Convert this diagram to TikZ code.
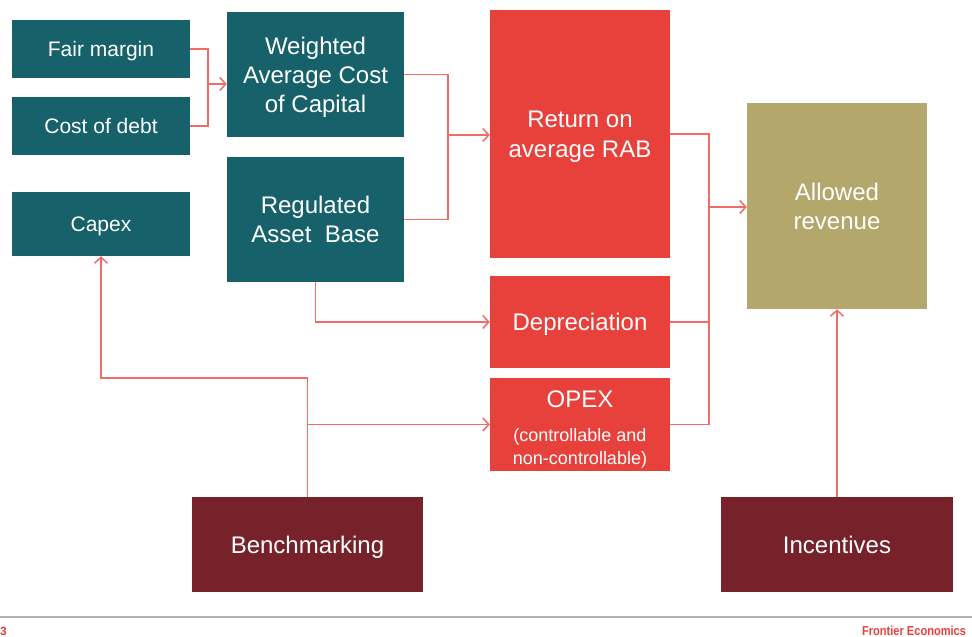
\documentclass[tikz,border=0pt]{standalone}
\usepackage{fontspec}
\setmainfont{Liberation Sans}
\usetikzlibrary{calc}
\usetikzlibrary{positioning}
\usetikzlibrary{arrows.meta}

\definecolor{tealbox}{HTML}{17616B}
\definecolor{redbox}{HTML}{E8403A}
\definecolor{olivebox}{HTML}{B3A76C}
\definecolor{maroonbox}{HTML}{77222A}
\definecolor{linkred}{HTML}{F26B66}
\definecolor{footred}{HTML}{E8403A}

\begin{document}
\begin{tikzpicture}[x=1pt, y=-1pt]
    \tikzstyle{box}=[inner sep=0pt, align=center, text=white, text depth=0pt, font=\fontsize{24}{29}\selectfont]
    \tikzstyle{input}=[box, fill=tealbox, minimum width=178pt, font=\fontsize{21}{25}\selectfont]
    \tikzstyle{calc}=[box, fill=tealbox, minimum width=177pt, minimum height=125pt]
    \tikzstyle{block}=[box, fill=redbox, minimum width=180pt]
    \tikzstyle{driver}=[box, fill=maroonbox, minimum height=95pt]
    \tikzstyle{link}=[draw=linkred, line width=1.5pt]
    \tikzstyle{feed}=[link, -{Straight Barb[length=6pt, width=13pt]}]

    \useasboundingbox (0,0) rectangle (972,637);

    % Inputs
    \node[input, minimum height=58pt] (fair) at (101,49) {Fair margin};
    \node[input, minimum height=58pt] (debt) at (101,126) {Cost of debt};
    \node[input, minimum height=64pt] (capex) at (101,224) {Capex};

    % WACC and RAB
    \node[calc] (wacc) at (315.5,74.5) {Weighted\\Average Cost\\of Capital};
    \node[calc] (rab) at (315.5,219.5) {Regulated\\Asset\ \ Base};

    % Building blocks
    \node[block, minimum height=248pt, yshift=0pt] (ret) at (580,134) {Return on\\[1pt]average RAB};
    \node[block, minimum height=92pt] (dep) at (580,322) {Depreciation};
    \node[block, minimum height=93pt, text depth=16pt] (opex) at (580,424.5)
      {OPEX\\[5pt]\parbox[t]{180pt}{\centering\fontsize{18}{23}\selectfont (controllable and\\non-controllable)}};

    % Revenue
    \node[box, fill=olivebox, minimum width=180pt, minimum height=206pt] (allowed) at (837,206) {Allowed\\revenue};

    % Drivers
    \node[driver, minimum width=231pt] (bench) at (307.5,544.5) {Benchmarking};
    \node[driver, minimum width=232pt] (incent) at (837,544.5) {Incentives};

    % Connectors
    \coordinate (j1) at (208,84);
    \draw[link] (fair.east) -| (j1) |- (debt.east);
    \draw[feed] (j1) -- (j1 -| wacc.west);

    \coordinate (j2) at (448,135);
    \draw[link] (wacc.east) -| (j2) |- (rab.east);
    \draw[feed] (j2) -- (j2 -| ret.west);

    \coordinate (j3) at (709,207);
    \draw[link] (ret.east) -| (j3);
    \draw[link] (dep.east) -| (j3);
    \draw[link] (opex.east) -| (j3);
    \draw[feed] (j3) -- (j3 -| allowed.west);

    \draw[feed] (rab.south) |- (dep.west);

    \coordinate (j4) at (bench.north |- opex.west);
    \draw[feed] (bench.north) -- ++(0,-119) -| (capex.south);
    \draw[feed] (j4) -- (opex.west);

    \draw[feed] (incent.north) -- (allowed.south);

    % Footer
    \draw[draw=black!30, line width=2pt] (0,617) -- (972,617);
    \node[anchor=base west, inner sep=0pt, text=footred, font=\fontsize{12}{14}\selectfont\bfseries] (page) at (0,635) {3};
    \node[anchor=base west, inner sep=0pt, xscale=0.85, text=footred, font=\fontsize{13}{15}\selectfont\bfseries] (firm) at (862,635) {Frontier Economics};
\end{tikzpicture}
\end{document}
